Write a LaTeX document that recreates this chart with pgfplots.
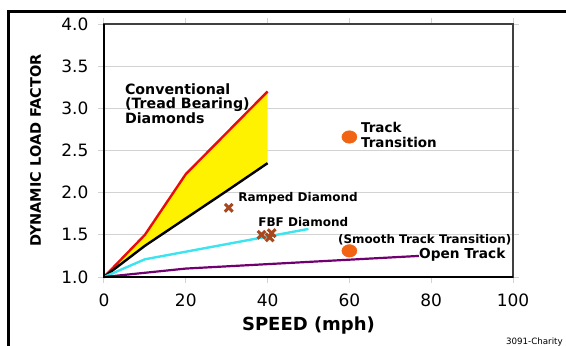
\documentclass[border=0pt]{standalone}
\usepackage{fontspec}
\setmainfont{DejaVu Sans}
\usepackage{pgfplots}
\pgfplotsset{compat=1.18}
\definecolor{cred}{RGB}{232,12,12}
\definecolor{ccyan}{RGB}{60,228,240}
\definecolor{cpurple}{RGB}{112,0,112}
\definecolor{corange}{RGB}{240,100,20}
\definecolor{cbrown}{RGB}{168,72,30}
\definecolor{cgrid}{RGB}{210,210,210}
\begin{document}
\begin{tikzpicture}
\useasboundingbox (0,0) rectangle (566pt,346pt);
\begin{axis}[
  scale only axis, width=409pt, height=253pt,
  at={(104pt,69pt)}, anchor=south west,
  xmin=0, xmax=100, ymin=1, ymax=4,
  xtick={0,20,...,100}, ytick={1.0,1.5,...,4.0},
  /pgf/number format/assume math mode=true,
  yticklabel style={font=\fontsize{17}{20}\selectfont, xshift=-6pt},
  xticklabel style={font=\fontsize{17}{20}\selectfont, yshift=-7pt},
  xticklabel={\pgfmathprintnumber[fixed,precision=0]{\tick}},
  yticklabel={\pgfmathprintnumber[fixed,fixed zerofill,precision=1]{\tick}},
  tick align=outside, major tick length=6pt,
  tick style={cgrid, line width=1pt},
  ymajorgrids, grid style={cgrid, line width=1pt},
  axis line style={black!75, line width=1.3pt},
  xlabel={\textbf{SPEED (mph)}}, ylabel={\textbf{DYNAMIC LOAD FACTOR}},
  xlabel style={at={(axis description cs:0.5,-0.19)}, anchor=center, font=\fontsize{18}{21}\selectfont},
  ylabel style={at={(axis description cs:-0.1675,0.5)}, anchor=center, font=\fontsize{14.5}{17}\selectfont},
  clip=false,
]
% yellow band between red and black curves
\addplot[fill=yellow, draw=none] coordinates {(0,1.0) (10,1.5) (20,2.22) (40,3.2) (40,2.35) (30,2.02) (10,1.37) (0,1.0)} -- cycle;
\addplot[cred, line width=2.4pt] coordinates {(0,1.0) (10,1.5) (20,2.22) (40,3.2)};
\addplot[black, line width=2.4pt] coordinates {(0,1.0) (10,1.37) (30,2.02) (40,2.35)};
\addplot[ccyan, line width=2.4pt] coordinates {(0,1.0) (10,1.21) (50,1.57)};
\addplot[cpurple, line width=2.2pt] coordinates {(0,1.0) (20,1.1) (77,1.25)};
\addplot[only marks, mark=*, mark size=6.3pt, mark options={xscale=1.2, fill=corange, draw=corange}] coordinates {(60,2.66) (60,1.31)};
\addplot[only marks, mark=x, mark size=5.5pt, mark options={cbrown, line width=3pt}] coordinates {(30.5,1.82) (38.5,1.50) (40.5,1.47) (41,1.52)};
\draw[black, line width=2.2pt] (axis cs:0,4) -- (axis cs:0,1) -- (axis cs:100,1);
% annotations
\node[anchor=west, align=left, font=\bfseries\fontsize{14.2}{14.5}\selectfont, inner sep=0pt] at (axis cs:5.1,3.06) {Conventional\\(Tread Bearing)\\Diamonds};
\node[anchor=west, align=left, font=\bfseries\fontsize{13.5}{15}\selectfont, inner sep=0pt] at (axis cs:62.8,2.68) {Track\\Transition};
\node[anchor=west, font=\bfseries\fontsize{12}{14}\selectfont, inner sep=0pt] at (axis cs:32.8,1.94) {Ramped Diamond};
\node[anchor=west, font=\bfseries\fontsize{12}{14}\selectfont, inner sep=0pt] at (axis cs:37.7,1.65) {FBF Diamond};
\node[anchor=west, font=\bfseries\fontsize{11.9}{14}\selectfont, inner sep=0pt] at (axis cs:57.2,1.44) {(Smooth Track Transition)};
\node[anchor=west, font=\bfseries\fontsize{13.7}{16}\selectfont, inner sep=0pt] at (axis cs:77.0,1.26) {Open Track};
\end{axis}
\draw[black, line width=2.5pt] (8.5pt,0) -- (8.5pt,334.5pt) -- (566pt,334.5pt);
\node[anchor=east, font=\fontsize{8.7}{10}\selectfont, inner sep=0pt] at (563pt,4pt) {3091-Charity};
\end{tikzpicture}
\end{document}
